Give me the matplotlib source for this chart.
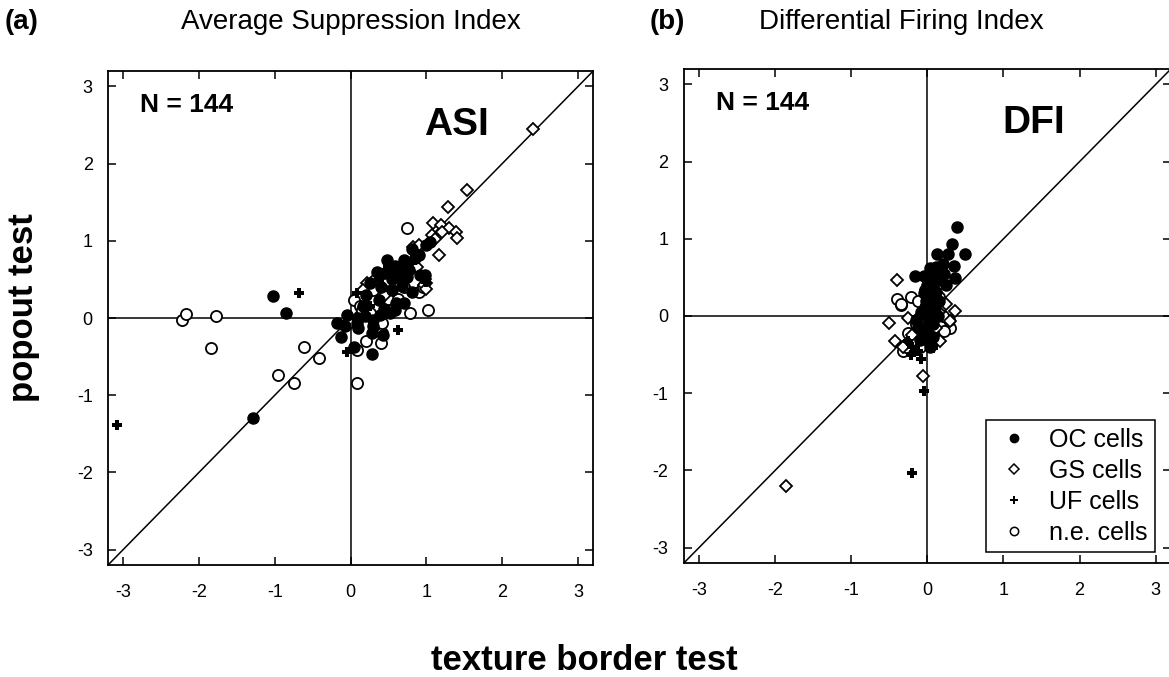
import matplotlib
matplotlib.use('Agg')
import matplotlib.pyplot as plt
from matplotlib.lines import Line2D

plt.rcParams['font.family'] = ['Liberation Sans', 'DejaVu Sans']
plt.rcParams['axes.unicode_minus'] = False

# ---- (a) Average Suppression Index: (texture border, popout) pairs ----
asi_oc_x = [-1.02, -0.85, -1.29, 0.28, 0.04, -0.13, -0.18, 0.52, 0.43, 0.28, 0.08, 0.17,
            0.37, 0.54, 0.68, 0.81, 0.74, 0.65, 0.52, 0.46, 0.48, 0.81, 0.90, 1.05, 0.74,
            0.92, 0.98, 0.30, 0.19, -0.05, 0.39, 0.59, 0.10, 0.30, 0.60, 0.70, 1.00, 0.20,
            0.40, 0.55, 0.10, 0.35, 0.62, 0.85, -0.07, 0.70, 0.58, 0.44, 0.25, 0.77]
asi_oc_y = [0.28, 0.07, -1.30, -0.47, -0.37, -0.25, -0.06, 0.06, -0.22, -0.20, -0.07, 0.15,
            0.23, 0.36, 0.41, 0.34, 0.53, 0.66, 0.62, 0.58, 0.75, 0.90, 0.82, 0.99, 0.71,
            0.56, 0.56, -0.03, 0.02, 0.04, 0.04, 0.10, -0.13, -0.10, 0.20, 0.75, 0.95, 0.30,
            0.40, 0.50, 0.00, 0.60, 0.55, 0.78, -0.10, 0.19, 0.68, 0.12, 0.45, 0.62]

asi_gs_x = [2.40, 1.54, 1.29, 1.09, 1.19, 1.30, 1.39, 1.41, 1.21, 1.16, 1.07, 0.99, 0.97,
            0.21, 0.32, 0.17, 0.83, 0.81, 1.00, 0.60, 0.45, 0.70, 0.88, 1.12, 0.50, 0.90, 0.98]
asi_gs_y = [2.45, 1.66, 1.44, 1.23, 1.20, 1.17, 1.11, 1.04, 1.11, 0.82, 1.08, 0.46, 0.43,
            0.46, 0.51, 0.36, 0.92, 0.73, 0.38, 0.55, 0.30, 0.62, 0.66, 1.02, 0.48, 0.95, 0.51]

asi_uf_x = [-3.08, -0.68, 0.63, -0.05, 0.08, 0.37, 0.94, 1.00, 0.70, 0.85, 0.45, 0.25]
asi_uf_y = [-1.38, 0.33, -0.15, -0.44, 0.32, 0.49, 0.53, 0.47, 0.75, 0.75, 0.62, 0.15]

asi_ne_x = [-2.22, -2.17, -1.77, -1.84, -0.61, -0.42, -0.96, -0.75, 0.08, 0.09, 0.75, 1.02,
            0.78, 0.40, 0.42, 0.42, 0.90, 0.05, 0.25, 0.50, 0.63, 0.48, 0.30, 0.13, -0.03,
            0.70, 0.55, 0.20, 0.95, 0.15]
asi_ne_y = [-0.02, 0.05, 0.03, -0.39, -0.37, -0.52, -0.74, -0.84, -0.84, -0.41, 1.16, 0.11,
            0.06, -0.32, -0.19, -0.06, 0.34, 0.23, 0.06, 0.25, 0.24, 0.47, 0.36, 0.15, -0.07,
            0.40, 0.10, -0.30, 0.40, 0.10]

# ---- (b) Differential Firing Index ----
dfi_oc_x = [0.39, 0.32, 0.49, 0.27, 0.13, 0.20, 0.35, 0.11, -0.16, -0.05, 0.36, 0.05, 0.08,
            0.03, -0.03, 0.01, -0.01, -0.06, 0.05, 0.12, 0.18, -0.12, -0.10, 0.03, 0.08, 0.00,
            0.10, 0.22, 0.06, -0.04, 0.15, 0.00, -0.08, 0.10, 0.04, 0.25, -0.02, 0.07, -0.15,
            0.14]
dfi_oc_y = [1.15, 0.93, 0.80, 0.80, 0.80, 0.67, 0.65, 0.64, 0.52, 0.52, 0.49, 0.51, 0.38,
            0.25, 0.12, -0.01, -0.14, -0.22, 0.16, 0.31, 0.47, -0.14, -0.31, -0.40, -0.27, 0.40,
            0.55, 0.55, 0.05, 0.30, 0.20, -0.30, 0.05, 0.10, 0.62, 0.40, 0.20, -0.10, -0.05,
            0.00]

dfi_gs_x = [-1.86, -0.06, -0.40, -0.50, -0.43, -0.25, 0.17, 0.36, 0.25, 0.30, -0.32, 0.05,
            -0.20, 0.12, 0.15, -0.10]
dfi_gs_y = [-2.20, -0.78, 0.46, -0.09, -0.33, -0.03, -0.32, 0.06, 0.16, -0.06, -0.40, -0.38,
            -0.25, -0.15, 0.05, 0.00]

dfi_uf_x = [-0.20, -0.05, -0.21, -0.08, 0.08, -0.20, -0.26, 0.05, -0.12, 0.00, 0.05]
dfi_uf_y = [-2.04, -0.97, -0.50, -0.56, -0.42, -0.40, -0.33, -0.40, -0.45, -0.20, 0.10]

dfi_ne_x = [-0.40, -0.35, -0.22, -0.12, 0.30, 0.28, -0.03, -0.32, -0.21, -0.10, -0.25, -0.34,
            0.20, -0.15, 0.08, 0.15, -0.05, 0.12, -0.28, 0.22]
dfi_ne_y = [0.22, 0.14, 0.24, 0.19, -0.15, -0.05, 0.34, -0.46, -0.33, -0.40, -0.22, 0.16,
            0.00, -0.10, -0.20, 0.25, 0.00, -0.30, -0.40, -0.20]

legend_labels = ['OC cells', 'GS cells', 'UF cells', 'n.e. cells']
ticks = [-3, -2, -1, 0, 1, 2, 3]
lim = 3.2


def draw_panel(ax, oc, gs, uf, ne, name):
    ax.set_xlim(-lim, lim)
    ax.set_ylim(-lim, lim)
    ax.axhline(0, color='black', lw=1.1, zorder=1)
    ax.axvline(0, color='black', lw=1.1, zorder=1)
    ax.plot([-lim, lim], [-lim, lim], color='black', lw=1.1, zorder=1)

    ax.plot(ne[0], ne[1], 'o', ms=8, mfc='white', mec='black', mew=1.3, ls='none', zorder=2)
    ax.plot(gs[0], gs[1], 'D', ms=6, mfc='white', mec='black', mew=1.3, ls='none', zorder=3)
    ax.plot(oc[0], oc[1], 'o', ms=8, mfc='black', mec='black', ls='none', zorder=4)
    ax.plot(uf[0], uf[1], 'P', ms=7, mfc='black', mec='black', mew=0, ls='none', zorder=5)

    ax.set_xticks(ticks)
    ax.set_yticks(ticks)
    ax.tick_params(direction='in', length=6, width=1.1, top=True, right=True, labelsize=13)
    ax.tick_params(axis='x', pad=14)
    ax.tick_params(axis='y', pad=11)
    for s in ax.spines.values():
        s.set_linewidth(1.3)

    ax.text(-2.78, 2.76, 'N = 144', fontsize=19, fontweight='bold', va='center')
    ax.text(1.40, 2.50, name, fontsize=28, fontweight='bold', va='center', ha='center')


fig = plt.figure(figsize=(11.69, 6.77), dpi=100)
ax_a = fig.add_axes([0.0924, 0.1654, 0.415, 0.7297])
ax_b = fig.add_axes([0.585, 0.1684, 0.4166, 0.7297])

draw_panel(ax_a, (asi_oc_x, asi_oc_y), (asi_gs_x, asi_gs_y), (asi_uf_x, asi_uf_y),
           (asi_ne_x, asi_ne_y), 'ASI')
draw_panel(ax_b, (dfi_oc_x, dfi_oc_y), (dfi_gs_x, dfi_gs_y), (dfi_uf_x, dfi_uf_y),
           (dfi_ne_x, dfi_ne_y), 'DFI')

handles = [
    Line2D([], [], marker='o', ls='none', ms=6, mfc='black', mec='black'),
    Line2D([], [], marker='D', ls='none', ms=5, mfc='white', mec='black', mew=1.1),
    Line2D([], [], marker='P', ls='none', ms=6, mfc='black', mec='black', mew=0),
    Line2D([], [], marker='o', ls='none', ms=6, mfc='white', mec='black', mew=1.1),
]
leg = ax_b.legend(handles, legend_labels, loc='lower right',
                  bbox_to_anchor=(0.967, 0.022), borderaxespad=0,
                  fontsize=18, fancybox=False, framealpha=1, edgecolor='black',
                  handletextpad=0.6, labelspacing=0.28, handlelength=1.6, borderpad=0.3)
leg.get_frame().set_linewidth(1.1)

fig.text(0.004, 0.968, '(a)', fontsize=20, fontweight='bold', va='center')
fig.text(0.556, 0.968, '(b)', fontsize=20, fontweight='bold', va='center')
fig.text(0.30, 0.967, 'Average Suppression Index', fontsize=20, ha='center', va='center')
fig.text(0.771, 0.967, 'Differential Firing Index', fontsize=20, ha='center', va='center')
fig.text(0.020, 0.545, 'popout test', fontsize=25, fontweight='bold', rotation=90,
         ha='center', va='center')
fig.text(0.5, 0.025, 'texture border test', fontsize=25, fontweight='bold',
         ha='center', va='center')

fig.savefig('out.png', dpi=100)
